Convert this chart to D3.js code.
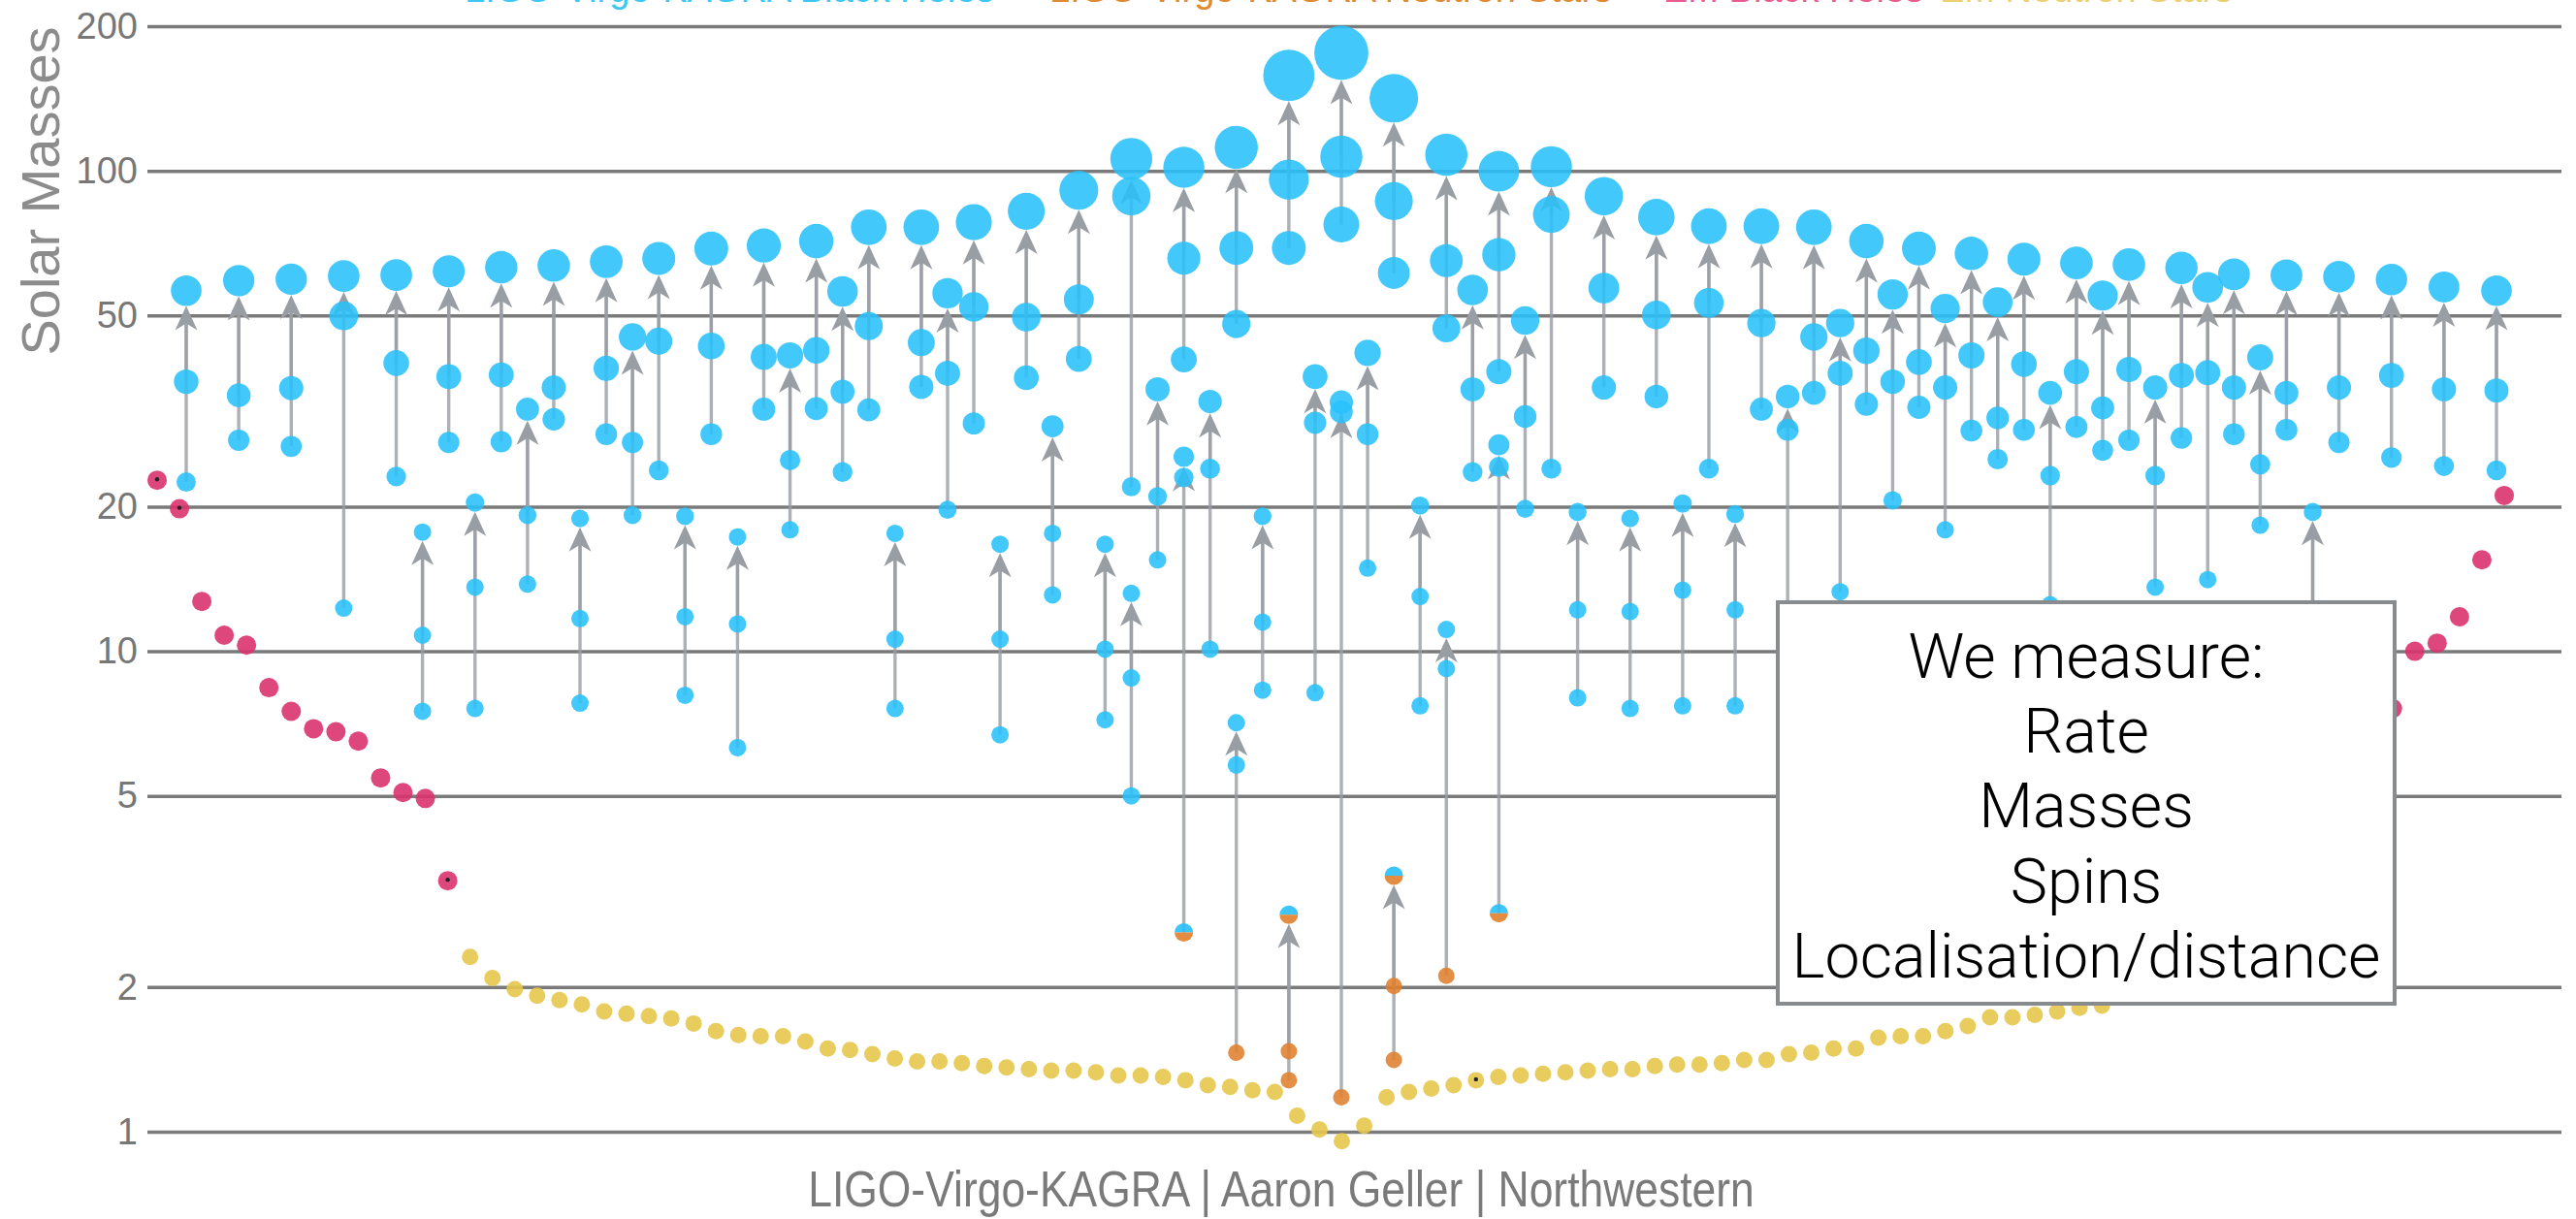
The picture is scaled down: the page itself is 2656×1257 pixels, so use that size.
<!DOCTYPE html>
<html>
<head>
<meta charset="utf-8">
<script src="https://cdn.jsdelivr.net/npm/d3@7"></script>
<style>
  body { margin: 0; background: #fff; }
  svg text { font-family: "Liberation Sans", "Helvetica Neue", Arial, sans-serif; }
</style>
</head>
<body>
<div id="chart"></div>
<script>

// y axis ticks (solar masses)
const yTicks = [1, 2, 5, 10, 20, 50, 100, 200];

// LIGO-Virgo-KAGRA mergers: column slot (half-column index), remnant, primary, secondary
const mergerSlot = [0, 2, 4, 6, 8, 9, 10, 11, 12, 13, 14, 15, 16, 17, 18, 19, 20, 21, 22, 23,
  24, 25, 26, 27, 28, 29, 30, 31, 32, 33, 34, 35, 36, 36, 37, 38, 38, 39, 40, 40,
  41, 42, 42, 43, 44, 44, 45, 46, 46, 47, 48, 48, 49, 50, 50, 51, 52, 53, 54, 55,
  56, 57, 58, 59, 60, 61, 62, 63, 64, 65, 66, 67, 68, 69, 70, 71, 72, 73, 74, 75,
  76, 77, 78, 79, 80, 81, 82, 84, 86, 88];
const mergerRemnant = [56.3, 59.1, 59.5, 60.4, 60.7, 17.7, 61.8, 20.4, 63.0, 31.9, 63.5, 18.9, 64.7, 45.1, 65.7, 19.1, 68.9, 17.3, 69.9, 41.3,
  71.4, 56.1, 76.3, 17.6, 76.3, 55.6, 78.2, 16.7, 82.4, 29.4, 91.1, 16.7, 105.9, 13.2, 35.1, 101.7, 25.4, 33.1, 111.9, 7.1,
  19.1, 158, 2.83, 37.3, 176, 33.0, 41.8, 141.6, 3.41, 20.1, 108, 11.1, 56.5, 99.8, 26.9, 48.8, 102, 19.5, 88.6, 18.9,
  80.1, 20.3, 76.7, 19.3, 76.7, 33.9, 76.3, 48.2, 71.4, 55.3, 68.9, 51.7, 67.3, 53.3, 65.5, 34.5, 64.3, 55.0, 63.8, 35.4,
  62.8, 57.2, 60.9, 40.9, 60.6, 19.5, 60.2, 59.4, 57.3, 56.3];
const mergerM1 = [36.4, 34.1, 35.3, 49.9, 39.8, 10.8, 37.3, 13.6, 37.6, 19.2, 35.4, 11.7, 38.8, 27.2, 44.2, 11.8, 43.2, 11.4, 41.0, 25.0,
  42.3, 34.7, 47.5, 10.6, 43.9, 37.9, 52.1, 10.6, 49.6, 17.6, 54.0, 10.1, 88.6, 8.8, 21.0, 65.8, 23.0, 24.0, 69.1, 5.8,
  11.5, 95.9, 1.47, 29.9, 107, 31.5, 28.3, 86.5, 2.01, 13.0, 65.0, 9.2, 35.1, 66.9, 24.2, 30.8, 81.1, 12.2, 57.0, 12.1,
  50.1, 13.4, 53.1, 12.2, 48.2, 28.9, 45.1, 37.9, 42.2, 36.4, 40.0, 35.4, 41.3, 30.6, 39.6, 23.2, 38.2, 32.1, 38.6, 23.2,
  37.5, 38.0, 35.4, 24.5, 34.5, 12.2, 35.4, 37.5, 35.1, 34.9];
const mergerM2 = [22.5, 27.5, 26.7, 12.3, 23.1, 7.5, 27.2, 7.6, 27.3, 13.8, 30.4, 7.8, 28.3, 19.2, 23.8, 8.1, 28.3, 6.3, 31.9, 17.9,
  32.0, 23.6, 31.8, 7.6, 35.5, 19.7, 29.8, 6.7, 37.1, 13.1, 40.6, 7.2, 22.0, 5.0, 15.5, 40.5, 2.6, 10.1, 48.0, 1.46,
  8.3, 69.1, 1.28, 8.2, 77.3, 1.18, 14.9, 61.3, 1.41, 7.7, 47.0, 2.11, 23.6, 38.2, 2.85, 19.8, 24.0, 8.0, 35.4, 7.6,
  33.9, 7.7, 24.0, 7.7, 31.9, 10.0, 34.5, 13.3, 32.7, 20.6, 32.2, 17.9, 28.8, 25.1, 28.9, 12.5, 29.3, 26.2, 27.5, 13.6,
  27.8, 14.1, 28.3, 18.3, 28.9, 7.7, 27.2, 25.3, 24.3, 23.8];
// object type for [remnant, primary, secondary]: B black hole, N neutron star, G mass gap
const mergerKind = {36: "BBG", 39: "BBN", 42: "GNN", 45: "BBN", 48: "GNN", 51: "BBN", 54: "BBG"};

// EM black holes: column slot and mass
const emBhSlot = [0, 1, 2, 3, 4, 5, 6, 7, 8, 9, 10, 11, 12, 13, 100, 101, 102, 103, 104, 105];
const emBhMass = [22.7, 19.8, 12.7, 10.8, 10.3, 8.4, 7.5, 6.9, 6.8, 6.5, 5.45, 5.08, 4.94, 3.33, 7.6, 10.0, 10.4, 11.8, 15.5, 21.1];
const emBhFlag = [0, 1, 13];

// EM neutron stars: column slot 14 onward, mass
const emNsMass = [2.31, 2.09, 1.98, 1.92, 1.88, 1.84, 1.78, 1.76, 1.74, 1.72, 1.68, 1.62, 1.59, 1.58, 1.58, 1.54,
  1.49, 1.48, 1.45, 1.42, 1.40, 1.40, 1.39, 1.37, 1.36, 1.35, 1.34, 1.34, 1.33, 1.31, 1.31, 1.30,
  1.28, 1.25, 1.24, 1.22, 1.21, 1.08, 1.01, 0.956, 1.03, 1.18, 1.21, 1.23, 1.25, 1.28, 1.30, 1.31,
  1.32, 1.33, 1.34, 1.35, 1.35, 1.37, 1.38, 1.38, 1.39, 1.41, 1.41, 1.45, 1.46, 1.49, 1.49, 1.57,
  1.58, 1.58, 1.62, 1.66, 1.73, 1.73, 1.75, 1.78, 1.81, 1.83];
const emNsFirstSlot = 14;
const emNsFlag = [59];

const legendLabels = ["LIGO-Virgo-KAGRA Black Holes", "LIGO-Virgo-KAGRA Neutron Stars", "EM Black Holes", "EM Neutron Stars"];
const boxLines = ["We measure:", "Rate", "Masses", "Spins", "Localisation/distance"];
const credit = "LIGO-Virgo-KAGRA | Aaron Geller | Northwestern";

const colors = {B: "#29c0fa", N: "#e0802e", emBh: "#d9336e", emNs: "#e6c74d", arrow: "#999ea4"};

const W = 2656, H = 1257;
const plot = {left: 152, right: 2641, top: 27, bottom: 1167};

const svg = d3.select("#chart").append("svg")
  .attr("width", W)
  .attr("height", H)
  .style("display", "block");

svg.append("rect").attr("width", W).attr("height", H).attr("fill", "#fff");

// scales
const y = d3.scaleLog().domain([1, 200]).range([plot.bottom, plot.top]);
const xMerger = d3.scaleLinear().domain([0, 88]).range([192, 2574]);
const xEm = d3.scaleLinear().domain([0, 105]).range([162, 2582]);
const rMerger = d3.scaleSqrt().domain([0, 160]).range([0, 26.6]);

function radius(kind, m) {
  if (kind === "N") return 8.5;
  if (kind === "G") return 9.5;
  return Math.max(9, rMerger(m));
}

// grid + axis
const yAxis = d3.axisLeft(y)
  .tickValues(yTicks)
  .tickFormat(d3.format("d"))
  .tickSizeInner(-(plot.right - plot.left))
  .tickSizeOuter(0)
  .tickPadding(10);

const axisG = svg.append("g")
  .attr("transform", `translate(${plot.left},0)`)
  .call(yAxis);
axisG.select(".domain").remove();
axisG.selectAll(".tick line").attr("stroke", "#7a7a7a").attr("stroke-width", 3.5);
axisG.selectAll(".tick text")
  .attr("fill", "#777")
  .style("font-size", "38px")
  .style("font-family", "'Liberation Sans', Arial, sans-serif");

svg.append("text")
  .attr("transform", "translate(61,197) rotate(-90)")
  .attr("text-anchor", "middle")
  .attr("fill", "#8c8c8c")
  .style("font-size", "56px")
  .text("Solar Masses");

// EM black holes and neutron stars
const emBh = emBhSlot.map((s, i) => ({slot: s, mass: emBhMass[i], flag: emBhFlag.includes(i)}));
const emNs = emNsMass.map((m, i) => ({slot: emNsFirstSlot + i, mass: m, flag: emNsFlag.includes(emNsFirstSlot + i)}));

svg.append("g").selectAll("circle")
  .data(emNs)
  .join("circle")
  .attr("cx", d => xEm(d.slot))
  .attr("cy", d => y(d.mass))
  .attr("r", 8.5)
  .attr("fill", colors.emNs)
  .attr("fill-opacity", 0.9);

svg.append("g").selectAll("circle")
  .data(emBh)
  .join("circle")
  .attr("cx", d => xEm(d.slot))
  .attr("cy", d => y(d.mass))
  .attr("r", 10)
  .attr("fill", colors.emBh)
  .attr("fill-opacity", 0.9);

svg.append("g").selectAll("circle")
  .data(emBh.concat(emNs).filter(d => d.flag))
  .join("circle")
  .attr("cx", d => xEm(d.slot))
  .attr("cy", d => y(d.mass) - 1)
  .attr("r", 2.2)
  .attr("fill", "#222");

// mergers
const mergers = mergerSlot.map((s, i) => {
  const kind = mergerKind[i] || "BBB";
  return {
    slot: s,
    parts: [
      {role: "rem", mass: mergerRemnant[i], kind: kind[0]},
      {role: "m1", mass: mergerM1[i], kind: kind[1]},
      {role: "m2", mass: mergerM2[i], kind: kind[2]}
    ]
  };
});

const lineG = svg.append("g");
mergers.forEach(ev => {
  const x = xMerger(ev.slot);
  const rem = ev.parts[0];
  const tip = y(rem.mass) + radius(rem.kind, rem.mass);
  ev.parts.slice(1).forEach(p => {
    lineG.append("line")
      .attr("x1", x).attr("x2", x)
      .attr("y1", y(p.mass)).attr("y2", tip + 14)
      .attr("stroke", colors.arrow)
      .attr("stroke-opacity", 0.8)
      .attr("stroke-width", 3.4);
  });
  lineG.append("path")
    .attr("d", "M0,0 L11.5,25 L0,18 L-11.5,25 Z")
    .attr("transform", `translate(${x},${tip})`)
    .attr("fill", colors.arrow);
});

const partG = svg.append("g");
const halfTop = d3.arc()({innerRadius: 0, outerRadius: 9.5, startAngle: -Math.PI / 2, endAngle: Math.PI / 2});
const halfBottom = d3.arc()({innerRadius: 0, outerRadius: 9.5, startAngle: Math.PI / 2, endAngle: Math.PI * 1.5});

mergers.forEach(ev => {
  const x = xMerger(ev.slot);
  // draw from small to large so remnant sits on top
  ev.parts.slice().reverse().forEach(p => {
    if (p.kind === "G") {
      partG.append("path").attr("d", halfTop)
        .attr("transform", `translate(${x},${y(p.mass)})`)
        .attr("fill", colors.B).attr("fill-opacity", 0.9);
      partG.append("path").attr("d", halfBottom)
        .attr("transform", `translate(${x},${y(p.mass)})`)
        .attr("fill", colors.N).attr("fill-opacity", 0.9);
    } else {
      partG.append("circle")
        .attr("cx", x)
        .attr("cy", y(p.mass))
        .attr("r", radius(p.kind, p.mass))
        .attr("fill", colors[p.kind])
        .attr("fill-opacity", 0.88);
    }
  });
});

// legend along the top edge (cropped in the source image)
const legendX = [479, 1082, 1715, 2000];
const legendColors = ["#3cc8f5", "#e08a30", "#ea5c8e", "#ecd070"];
svg.append("g").selectAll("text")
  .data(legendLabels)
  .join("text")
  .attr("x", (d, i) => legendX[i])
  .attr("y", 2)
  .attr("fill", (d, i) => legendColors[i])
  .style("font-size", "38px")
  .text(d => d);

// annotation box
svg.append("rect")
  .attr("x", 1833).attr("y", 621)
  .attr("width", 636).attr("height", 414)
  .attr("fill", "#fff")
  .attr("stroke", "#898c8f")
  .attr("stroke-width", 4);

const boxText = svg.append("g").selectAll("text")
  .data(boxLines)
  .join("text")
  .attr("text-anchor", "middle")
  .attr("fill", "#000")
  .style("font-family", "Roboto, 'Liberation Sans', sans-serif")
  .style("font-weight", 300)
  .style("font-size", "64px")
  .text(d => d);

const longest = boxText.nodes()[boxLines.length - 1].getComputedTextLength();
const squeeze = 607 / longest;
boxText.attr("transform", (d, i) => `translate(2151,${698.6 + i * 77.4}) scale(${squeeze},1)`);

// credit line
const creditText = svg.append("text")
  .attr("text-anchor", "middle")
  .attr("fill", "#7a7a7a")
  .style("font-size", "52px")
  .text(credit);
const creditSqueeze = 976 / creditText.node().getComputedTextLength();
creditText.attr("transform", `translate(1321,1244) scale(${creditSqueeze},1)`);

</script>
</body>
</html>
